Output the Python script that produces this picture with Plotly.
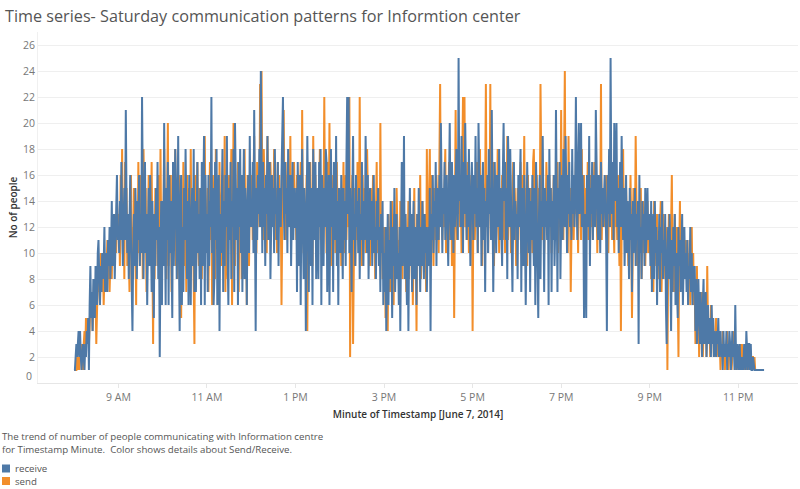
import pandas as pd
import plotly.graph_objects as go

# ---- data: people per minute, June 7 2014, from 08:00 ----
rec_08 = [1,1,2,3,2,3,4,2,4,2, 1,2,3,2,1,3,2,4,3,5, 1,6,9,5,7,4,8,6,5,9, 7,6,10,11,8,6,9,7,10,8, 9,12,7,10,8,7,11,9,12,8, 10,14,9,11,13,8,10,12,16,11]
send_08 = [1,1,1,1,2,1,2,1,3,2, 3,2,1,3,4,2,5,3,4,5, 3,4,6,5,7,4,6,8,5,7, 3,6,8,7,9,6,10,8,7,9, 6,8,10,7,9,11,8,10,7,9, 11,8,12,10,9,13,11,10,14,12]
rec_09 = [12,10,14,11,17,13,9,12,15,11, 21,14,10,13,8,12,16,11,7,4, 10,13,9,15,12,8,14,11,16,9, 13,10,22,12,8,14,17,10,13,6, 11,15,9,16,12,7,14,10,5,13, 9,15,11,17,8,12,2,10,14,6]
send_09 = [11,13,9,16,12,18,10,14,8,17, 12,15,9,13,11,7,14,16,10,12, 8,15,11,13,6,14,10,17,12,9, 16,11,14,8,18,12,10,15,7,13, 11,16,9,14,12,17,10,3,13,8, 15,11,14,9,16,12,10,18,11,13]
rec_10 = [14,9,20,12,6,15,11,17,6,16, 10,14,7,5,17,9,13,18,15,8, 12,19,10,4,14,16,6,12,7,15, 11,18,13,8,14,6,16,12,6,13, 15,9,18,7,14,7,12,17,10,13, 8,15,6,17,9,14,19,6,16,10]
send_10 = [10,13,18,11,15,8,12,20,9,14, 11,16,7,13,10,15,12,18,9,14, 8,12,16,10,13,5,15,11,17,9, 14,12,7,16,10,13,15,9,18,11, 12,14,8,3,16,10,13,17,11,9, 15,12,14,8,13,16,10,19,12,11]
rec_11 = [13,7,16,9,14,12,22,10,15,6, 8,17,11,18,6,12,16,4,13,10, 15,18,7,14,9,16,12,19,10,6, 15,11,17,8,14,12,18,7,20,13, 11,15,6,17,12,18,10,16,7,13, 18,8,15,12,6,14,16,10,19,12]
send_11 = [12,15,7,14,17,11,13,6,16,12, 14,8,18,11,13,15,6,17,12,9, 14,16,11,13,19,7,15,12,8,14, 16,11,13,18,6,12,20,14,9,15, 11,13,17,7,14,12,16,8,15,13, 11,18,12,14,6,16,13,9,15,12]
rec_12 = [14,12,17,10,21,13,4,15,11,16, 13,18,12,24,14,10,17,12,15,9, 16,13,19,11,14,17,8,13,16,12, 15,10,18,13,14,11,17,9,15,13, 12,16,22,22,14,11,17,13,15,10, 18,12,14,16,9,13,17,11,15,12]
send_12 = [13,16,11,15,19,12,14,10,17,13, 15,12,23,16,24,13,11,18,14,12, 16,10,19,13,15,11,17,14,12,16, 13,18,11,15,14,10,17,13,16,12, 14,6,15,18,21,13,16,11,14,17, 12,15,13,19,11,16,14,12,17,13]
rec_13 = [12,15,7,17,13,9,16,6,14,18, 12,8,15,13,4,11,19,14,7,17, 13,9,15,6,18,11,14,17,8,13, 15,8,17,12,18,6,16,13,9,15, 12,18,17,7,13,16,6,14,18,12, 15,7,17,13,11,19,9,14,6,15]
send_13 = [14,11,16,12,9,15,13,17,10,21, 12,15,8,14,11,16,4,13,15,10, 17,12,14,9,19,13,11,16,12,14, 10,15,13,18,11,14,16,9,13,22, 12,15,10,14,17,11,20,13,9,15, 12,16,11,14,10,13,17,12,15,11]
rec_14 = [13,10,16,12,8,15,11,14,9,17, 22,13,22,10,15,12,7,14,19,11, 13,9,16,12,14,10,15,8,13,11, 17,12,9,14,11,19,13,10,16,8, 12,15,11,14,9,13,16,10,12,8, 14,11,15,9,12,7,13,10,14,6]
send_14 = [11,14,9,15,12,17,10,13,16,11, 14,12,15,22,2,10,13,16,3,12, 15,9,14,11,17,13,10,22,12,14, 9,16,11,13,15,10,12,18,14,11, 13,9,15,12,10,16,11,14,8,13, 17,10,12,15,9,20,11,13,8,12]
rec_15 = [10,7,12,4,9,13,6,11,8,14, 10,5,12,9,15,7,11,13,8,10, 6,12,4,14,17,9,11,19,8,13, 10,6,12,4,11,15,9,13,7,10, 14,8,12,11,6,13,9,15,10,7, 12,9,14,11,8,13,10,12,7,11]
send_15 = [9,12,5,11,8,4,13,10,7,12, 9,14,11,6,13,10,8,15,12,9, 11,7,14,10,12,8,16,11,9,13, 7,12,10,14,8,11,13,9,12,6, 10,15,8,11,4,13,9,12,10,16, 8,11,14,9,12,10,13,7,18,11]
rec_16 = [12,9,15,4,13,11,16,10,14,12, 17,9,15,13,11,16,12,20,14,10, 15,13,17,11,14,16,12,9,15,20, 13,11,17,14,10,16,12,15,18,13, 11,25,14,16,12,19,15,10,17,13, 20,14,11,16,12,18,15,9,14,17]
send_16 = [11,14,18,10,13,16,12,9,15,13, 11,16,14,12,10,17,23,13,15,11, 14,12,16,18,10,13,15,12,17,11, 14,16,9,13,15,5,12,21,14,11, 16,13,18,12,15,10,17,22,13,22, 12,15,11,17,14,10,16,13,12,15]
rec_17 = [14,11,16,13,19,12,15,10,20,14, 12,16,9,13,17,11,15,7,14,12, 16,10,18,13,15,11,21,14,7,12, 17,13,10,16,14,12,18,11,15,13, 9,16,20,14,17,11,15,8,19,16, 12,18,14,10,7,13,17,11,14,12]
send_17 = [4,13,16,11,14,12,17,10,15,13, 18,12,14,9,16,11,13,15,23,12, 14,10,16,13,23,11,15,12,17,9, 14,16,11,13,18,12,10,15,14,12, 16,11,13,17,10,14,12,19,11,15, 13,16,10,14,12,17,11,15,13,9]
rec_18 = [13,8,16,12,14,18,7,15,13,9, 16,12,6,11,17,13,10,15,7,14, 11,16,13,9,15,6,17,14,10,5, 13,16,8,14,12,19,13,7,15,12, 14,11,16,6,18,12,15,7,14,11, 16,9,12,21,14,7,15,13,17,8]
send_18 = [12,15,11,14,13,17,10,16,12,14, 19,11,15,13,9,16,12,14,11,15, 13,10,17,18,12,14,11,16,13,9, 15,12,23,14,11,16,13,10,15,12, 17,14,11,13,16,12,15,10,14,13, 16,11,15,12,14,17,10,13,15,12]
rec_19 = [13,16,11,18,14,12,19,15,10,16, 13,17,12,14,11,18,13,16,12,15, 22,14,11,17,20,13,15,20,12,16, 14,5,13,11,5,16,14,12,19,9, 15,13,17,11,16,14,12,21,15,13, 11,16,14,10,17,13,15,12,14,16]
send_19 = [21,13,15,11,17,24,12,14,16,10, 19,13,15,7,12,16,14,11,15,13, 17,12,14,10,16,13,15,11,18,12, 14,16,10,13,15,12,17,11,14,13, 16,12,15,11,14,17,13,12,15,10, 14,16,12,13,23,11,15,13,12,14]
rec_20 = [14,11,4,16,13,18,12,25,15,13, 17,11,20,14,16,20,12,15,10,13, 17,12,19,14,11,15,9,13,16,10, 14,12,8,15,11,13,7,14,10,12, 15,9,13,11,14,3,16,10,12,8, 14,11,13,9,15,10,12,15,11,13]
send_20 = [13,16,12,15,10,17,14,12,16,11, 15,13,10,17,12,14,11,16,13,9, 15,4,12,14,18,11,13,10,15,12, 14,9,13,11,16,12,5,10,15,13, 11,19,12,9,14,10,13,11,15,8, 12,14,10,13,9,12,11,14,10,12]
rec_21 = [12,9,14,7,11,13,8,14,10,12, 6,11,9,13,7,12,10,14,8,11, 9,13,6,3,10,12,8,13,9,4, 11,7,12,9,13,6,10,8,5,12, 9,11,7,10,13,6,9,12,8,10, 7,11,6,9,8,12,7,10,6,9]
send_21 = [10,13,8,12,11,7,14,9,12,10, 13,8,11,9,12,14,7,10,13,9, 11,8,12,10,1,9,13,11,8,12, 16,9,11,7,13,10,8,12,6,2, 10,14,8,11,9,7,12,10,8,11, 9,7,10,8,11,6,9,12,7,10]
rec_22 = [7,9,4,8,3,6,8,5,3,7, 5,2,6,8,3,5,7,2,5,6, 3,5,4,2,6,3,5,2,4,3, 2,4,3,5,2,3,4,2,3,1, 4,2,3,2,4,1,3,2,4,3, 1,2,4,2,3,1,6,2,1,3]
send_22 = [6,8,3,6,9,4,7,2,6,5, 3,7,2,4,6,3,6,2,9,4, 3,5,2,6,4,3,5,2,4,3, 5,2,3,4,2,3,1,3,2,4, 2,3,1,3,2,4,2,1,3,2, 3,1,2,4,2,3,1,2,3,2]
rec_23 = [2,1,3,1,2,1,2,1,3,2, 1,4,2,1,3,3,1,3,1,1, 2,1,1,1,1,1,1,1,1,1, 1,1,1,1,1,1]
send_23 = [1,2,1,3,1,3,2,1,2,1, 3,1,2,1,2,1,1,2,1,2, 2,1,2,1,1,1,1,1,1,1, 1,1,1,1,1]

receive = (rec_08 + rec_09 + rec_10 + rec_11 + rec_12 + rec_13 + rec_14 + rec_15
           + rec_16 + rec_17 + rec_18 + rec_19 + rec_20 + rec_21 + rec_22 + rec_23)
send = (send_08 + send_09 + send_10 + send_11 + send_12 + send_13 + send_14 + send_15
        + send_16 + send_17 + send_18 + send_19 + send_20 + send_21 + send_22 + send_23)

t_rec = pd.date_range("2014-06-07 08:00", periods=len(receive), freq="min")
t_send = pd.date_range("2014-06-07 08:00", periods=len(send), freq="min")

y_ticks = list(range(2, 27, 2))
x_tick_times = ["2014-06-07 09:00", "2014-06-07 11:00", "2014-06-07 13:00", "2014-06-07 15:00",
                "2014-06-07 17:00", "2014-06-07 19:00", "2014-06-07 21:00", "2014-06-07 23:00"]
x_tick_labels = ["9 AM", "11 AM", "1 PM", "3 PM", "5 PM", "7 PM", "9 PM", "11 PM"]

BLUE = "#4e79a7"
ORANGE = "#f28e2b"
FONT = "Open Sans"

# plot area in window pixels: x 38..798, y 32..383
PW, PH = 760, 351
def px(xw):
    return (xw - 38) / PW
def py(yw):
    return (383 - yw) / PH

fig = go.Figure()
fig.add_trace(go.Scatter(x=t_send, y=send, mode="lines", name="send",
                         line=dict(color=ORANGE, width=2)))
fig.add_trace(go.Scatter(x=t_rec, y=receive, mode="lines", name="receive",
                         line=dict(color=BLUE, width=2)))

fig.update_layout(
    width=800, height=489,
    margin=dict(l=38, r=2, t=32, b=106),
    paper_bgcolor="white", plot_bgcolor="white",
    showlegend=False,
    font=dict(family=FONT, color="#666666", size=11),
    title=dict(text="Time series- Saturday communication patterns for Informtion center",
               x=5/800, xanchor="left", y=1-16/489, yanchor="middle",
               font=dict(family=FONT, size=16.2, color="#555555")),
)
fig.update_yaxes(range=[0, 27], tickvals=y_ticks, showgrid=True, gridcolor="#efefef",
                 gridwidth=1, zeroline=False, showline=True, linecolor="#f0f0f0",
                 ticks="", automargin=False, tickfont=dict(size=10.5, color="#777777"),
                 title=dict(text="No of people", font=dict(size=10, color="#333333", weight=600),
                            standoff=3))
fig.update_xaxes(range=["2014-06-07 07:11", "2014-06-08 00:21"], tickvals=x_tick_times,
                 ticktext=x_tick_labels, showgrid=False, zeroline=False, automargin=False,
                 showline=True, linecolor="#e6e6e6", ticks="outside", ticklen=4,
                 tickcolor="#e6e6e6",
                 tickfont=dict(size=10.5, color="#777777"),
                 title=dict(text="Minute of Timestamp [June 7, 2014]",
                            font=dict(size=10, color="#333333", weight=600), standoff=8))

# zero label lifted like the reference
fig.add_annotation(text="0", xref="paper", yref="paper", x=px(34), y=py(376),
                   xanchor="right", yanchor="middle", showarrow=False,
                   font=dict(size=10.5, color="#777777"))

fig.add_annotation(text="The trend of number of people communicating with Information centre",
                   xref="paper", yref="paper", x=px(0), y=py(436), xanchor="left", yanchor="middle",
                   showarrow=False, font=dict(size=9.7, color="#555555"))
fig.add_annotation(text="for Timestamp Minute.  Color shows details about Send/Receive.",
                   xref="paper", yref="paper", x=px(0), y=py(449), xanchor="left", yanchor="middle",
                   showarrow=False, font=dict(size=9.7, color="#555555"))
for label, color, yc in [("receive", BLUE, 468.5), ("send", ORANGE, 481)]:
    fig.add_shape(type="rect", xref="paper", yref="paper",
                  x0=px(2), x1=px(10), y0=py(yc + 4), y1=py(yc - 4),
                  fillcolor=color, line=dict(width=0))
    fig.add_annotation(text=label, xref="paper", yref="paper", x=px(13), y=py(yc),
                       xanchor="left", yanchor="middle", showarrow=False,
                       font=dict(size=9.7, color="#555555"))

fig.write_html("out.html", config={"displayModeBar": False},
               post_script="document.body.style.margin='0';")
